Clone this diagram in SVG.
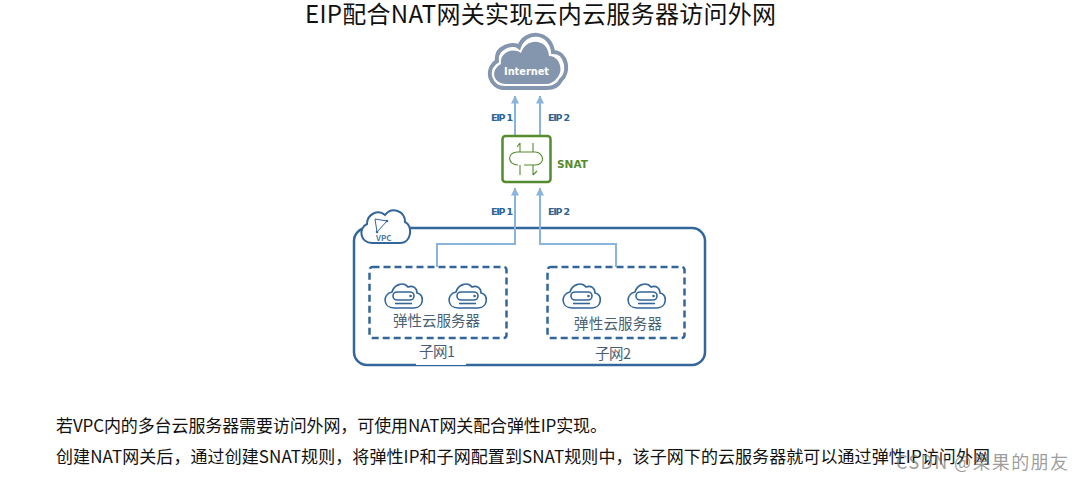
<svg xmlns="http://www.w3.org/2000/svg" width="1083" height="481" viewBox="0 0 1083 481">
<style>
text{font-family:"Noto Sans CJK SC","Noto Sans",sans-serif}
.title{font-size:24px;fill:#111}
.body{font-size:17px;fill:#111}
.eip{font-size:9.500px;font-weight:700;fill:#2f6496;font-family:"DejaVu Sans",sans-serif}
.cn{font-size:14.500px;fill:#4a5f75}
.link{fill:none;stroke:#8ab4dc;stroke-width:2}
.dash{fill:#fff;stroke:#33669a;stroke-width:2.500;stroke-dasharray:7 4}
.srv{fill:#fff;stroke:#33669a;stroke-width:1.600}
</style>
<defs>
<marker id="arrow" markerWidth="10" markerHeight="8" refX="7.500" refY="4" orient="auto" markerUnits="userSpaceOnUse"><path d="M0 0L8 4L0 8Z" fill="#8ab4dc"/></marker>
<g id="srv">
<path class="srv" d="M-9 26C-20 26-21 12-11 10C-9 3 0-1 5 5C10 3 14 6 14 11C22 12 21 26 11 26Z" transform="translate(-1 0)"/>
<rect class="srv" x="-11" y="10" width="21" height="8" rx="4"/>
<path class="srv" d="M-9 21.500H8" stroke-width="1.200"/>
<circle cx="6.500" cy="14" r="1.300" fill="#33669a"/>
</g>
</defs>
<rect width="1083" height="481" fill="#fff"/>
<text class="title" x="305" y="23" textLength="471" lengthAdjust="spacing">EIP配合NAT网关实现云内云服务器访问外网</text>
<g id="vpc">
<rect x="354" y="228" width="351" height="137" rx="13" fill="#fff" stroke="#33669a" stroke-width="2.500"/>
<path d="M372 243C360 243 358 228 367 224C367 214 378 209 385 215C392 206 405 211 405 222C413 225 412 243 400 243Z" fill="#fff" stroke="#33669a" stroke-width="2"/>
<path d="M375 219L387 221L377 232Z" fill="none" stroke="#33669a" stroke-width="1"/>
<circle cx="387" cy="221" r="1.300" fill="#33669a"/>
<circle cx="377" cy="232" r="1.300" fill="#33669a"/>
<text x="376" y="241" font-size="8" font-weight="700" fill="#4a7aa8">VPC</text>
</g>
<g id="subnet1">
<rect class="dash" x="369.500" y="267" width="137" height="71" rx="3"/>
<use href="#srv" x="404" y="282"/>
<use href="#srv" x="468" y="282"/>
<text class="cn" x="393" y="326" textLength="87">弹性云服务器</text>
<rect x="416" y="342" width="50" height="23" fill="#fff"/>
<text class="cn" x="419" y="357" font-size="15" textLength="36">子网1</text>
</g>
<g id="subnet2">
<rect class="dash" x="547.500" y="267" width="137" height="71" rx="3"/>
<use href="#srv" x="582" y="282"/>
<use href="#srv" x="647" y="282"/>
<text class="cn" x="574" y="329" textLength="88">弹性云服务器</text>
<text class="cn" x="595" y="359" font-size="15" textLength="36">子网2</text>
</g>
<g id="connectors">
<path class="link" d="M515 135V96" marker-end="url(#arrow)"/>
<path class="link" d="M540 135V96" marker-end="url(#arrow)"/>
<path class="link" d="M437 267V244H515V188" marker-end="url(#arrow)"/>
<path class="link" d="M616 267V244H540V188" marker-end="url(#arrow)"/>
</g>
<g id="internet">
<path d="M505 88C490 88 484 70 497 61C495 47 513 42 519 47C525 29 551 31 553 52C567 52 570 72 561 80C558 86 553 88 547 88Z" fill="#fff" stroke="#8496ae" stroke-width="4"/>
<path d="M506 84C494 84 489 71 501 64C499 52 514 47 521 53C526 37 548 38 549 56C560 56 564 71 557 78C554 82 550 84 546 84Z" fill="#8496ae"/>
<text x="504" y="75" textLength="45" font-size="10.500" font-weight="700" fill="#fff" lengthAdjust="spacingAndGlyphs" style="font-family:'DejaVu Sans',sans-serif">Internet</text>
</g>
<g id="snat">
<rect x="502.500" y="136" width="48" height="46" rx="3" fill="#fff" stroke="#558b2f" stroke-width="2.500"/>
<path d="M517 152H535C544 152 546 165 535 165H524M517 152C506 153 508 165 518 165M520 143V152M533 143V152M520 165V175M533 165V175M533 175L537 171M520 143L517 147" fill="none" stroke="#558b2f" stroke-width="1.100"/>
<text x="557" y="168" font-size="10.500" font-weight="700" fill="#558b2f" textLength="31" style="font-family:'DejaVu Sans',sans-serif">SNAT</text>
</g>
<g id="eip-labels">
<text class="eip" x="491" y="121" textLength="22">EIP 1</text>
<text class="eip" x="548" y="121" textLength="22">EIP 2</text>
<text class="eip" x="491" y="215" textLength="22">EIP 1</text>
<text class="eip" x="548" y="215" textLength="22">EIP 2</text>
</g>
<text class="body" x="56" y="432" textLength="551">若VPC内的多台云服务器需要访问外网，可使用NAT网关配合弹性IP实现。</text>
<text class="body" x="56" y="463" textLength="934">创建NAT网关后，通过创建SNAT规则，将弹性IP和子网配置到SNAT规则中，该子网下的云服务器就可以通过弹性IP访问外网</text>
<text x="896" y="469" font-size="18" fill="#777" fill-opacity=".72" textLength="172">CSDN @果果的朋友</text>
</svg>
